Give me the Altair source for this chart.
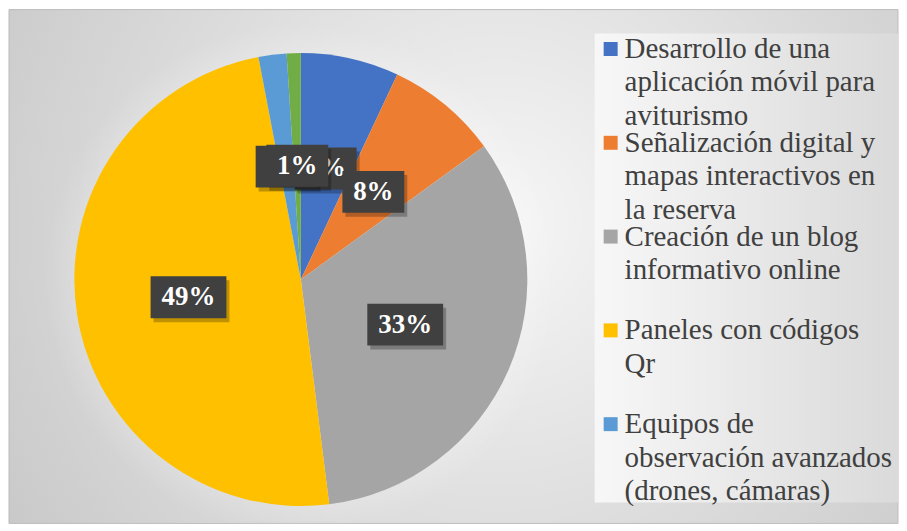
import altair as alt
import pandas as pd

# ---------------- data ----------------
categories = [
    "Desarrollo de una aplicación móvil para aviturismo",
    "Señalización digital y mapas interactivos en la reserva",
    "Creación de un blog informativo online",
    "Paneles con códigos Qr",
    "Equipos de observación avanzados (drones, cámaras)",
    "Otros",
]
values = [7, 8, 33, 49, 2, 1]
colors = ["#4472C4", "#ED7D31", "#A5A5A5", "#FFC000", "#5B9BD5", "#70AD47"]
legend_lines = [
    ["Desarrollo de una", "aplicación móvil para", "aviturismo"],
    ["Señalización digital y", "mapas interactivos en", "la reserva"],
    ["Creación de un blog", "informativo online"],
    ["Paneles con códigos", "Qr"],
    ["Equipos de", "observación avanzados", "(drones, cámaras)"],
]

# ---------------- layout constants ----------------
W, H = 891, 515
CX, CY, R = 292.5, 270.5, 227
LR = 114  # label radius
FONT = "'Liberation Serif', 'Times New Roman', Times, 'DejaVu Serif', serif"

pie_df = pd.DataFrame({"cat": categories, "value": values, "order": list(range(len(values)))})
rows = []
for i, lines in enumerate(legend_lines):
    for j, t in enumerate(lines):
        rows.append({"cat": categories[i], "entry": i, "line": j, "txt": t})
leg_df = pd.DataFrame(rows)
one = pd.DataFrame({"a": [0]})

color_scale = alt.Scale(domain=categories, range=colors)

# ---------------- backgrounds ----------------
bg = alt.Chart(one).mark_rect(
    fill={"gradient": "radial", "x1": 0.55, "y1": 0.45, "x2": 0.55, "y2": 0.45, "r1": 0, "r2": 0.78,
          "stops": [{"offset": 0, "color": "#f6f6f6"}, {"offset": 1, "color": "#c0c0c0"}]},
    stroke="#bdbdbd", strokeWidth=1,
).encode(x=alt.value(0), x2=alt.value(W), y=alt.value(0), y2=alt.value(H))

legbox = alt.Chart(one).mark_rect(
    fill={"gradient": "linear", "x1": 0, "y1": 0.5, "x2": 1, "y2": 0.5,
          "stops": [{"offset": 0, "color": "#f7f7f7"}, {"offset": 1, "color": "#dadada"}]},
).encode(x=alt.value(587), x2=alt.value(W), y=alt.value(24), y2=alt.value(494))

halo = alt.Chart(one).mark_arc(
    radius=R + 30,
    fill={"gradient": "radial", "x1": 0.5, "y1": 0.5, "x2": 0.5, "y2": 0.5, "r1": 0.4, "r2": 0.5,
          "stops": [{"offset": 0, "color": "rgba(255,255,255,0.25)"},
                    {"offset": 1, "color": "rgba(255,255,255,0)"}]},
).encode(theta=alt.value(6.2832), x=alt.value(CX), y=alt.value(CY))

# ---------------- pie ----------------
arcs = alt.Chart(pie_df).mark_arc(radius=R).encode(
    theta=alt.Theta("value:Q", stack=True),
    color=alt.Color("cat:N", scale=color_scale, legend=None),
    order=alt.Order("order:Q"),
    x=alt.value(CX), y=alt.value(CY),
)

lab_base = alt.Chart(pie_df).transform_window(
    cum="sum(value)", sort=[alt.SortField("order")], frame=[None, 0]
).transform_joinaggregate(total="sum(value)").transform_calculate(
    ang="2*PI*(datum.cum - datum.value/2)/datum.total"
).transform_calculate(
    px=f"{CX} + {LR}*sin(datum.ang)",
    py=f"{CY} - {LR}*cos(datum.ang)",
    txt="datum.value + '%'",
).transform_calculate(
    bw="length(datum.txt) > 2 ? 76 : 62"
).transform_calculate(
    bx1="datum.px - datum.bw/2", bx2="datum.px + datum.bw/2",
    by1="datum.py - 21", by2="datum.py + 21",
    sx1="datum.px - datum.bw/2 + 3", sx2="datum.px + datum.bw/2 + 3",
    sy1="datum.py - 21 + 4", sy2="datum.py + 21 + 4",
)

label_layers = []
for k in range(len(values)):
    b = lab_base.transform_filter(f"datum.order == {k}")
    shadow = b.mark_rect(fill="black", opacity=0.25).encode(
        x=alt.X("sx1:Q", scale=None, axis=None), x2="sx2:Q",
        y=alt.Y("sy1:Q", scale=None, axis=None), y2="sy2:Q")
    box = b.mark_rect(fill="#404040").encode(
        x=alt.X("bx1:Q", scale=None, axis=None), x2="bx2:Q",
        y=alt.Y("by1:Q", scale=None, axis=None), y2="by2:Q")
    txt = b.mark_text(font=FONT, fontSize=27, fontWeight="bold", color="white",
                      align="center", baseline="middle").encode(
        x=alt.X("px:Q", scale=None, axis=None), y=alt.Y("py:Q", scale=None, axis=None), text="txt:N")
    label_layers += [shadow, box, txt]

# ---------------- legend ----------------
leg_base = alt.Chart(leg_df).transform_calculate(
    ly="39.5 + 94*datum.entry + 33.5*datum.line"
)
leg_sym = leg_base.transform_filter("datum.line == 0").mark_square(size=196, opacity=1).encode(
    x=alt.value(603), y=alt.Y("ly:Q", scale=None, axis=None),
    color=alt.Color("cat:N", scale=color_scale, legend=None))
leg_txt = leg_base.mark_text(font=FONT, fontSize=29, color="#404040",
                             align="left", baseline="middle").encode(
    x=alt.value(617), y=alt.Y("ly:Q", scale=None, axis=None), text="txt:N")

chart = alt.layer(bg, legbox, halo, arcs, *label_layers, leg_sym, leg_txt).properties(
    width=W, height=H, padding=0
).configure_view(stroke=None)

chart.save("out.html", embed_options={"renderer": "svg", "actions": False})
